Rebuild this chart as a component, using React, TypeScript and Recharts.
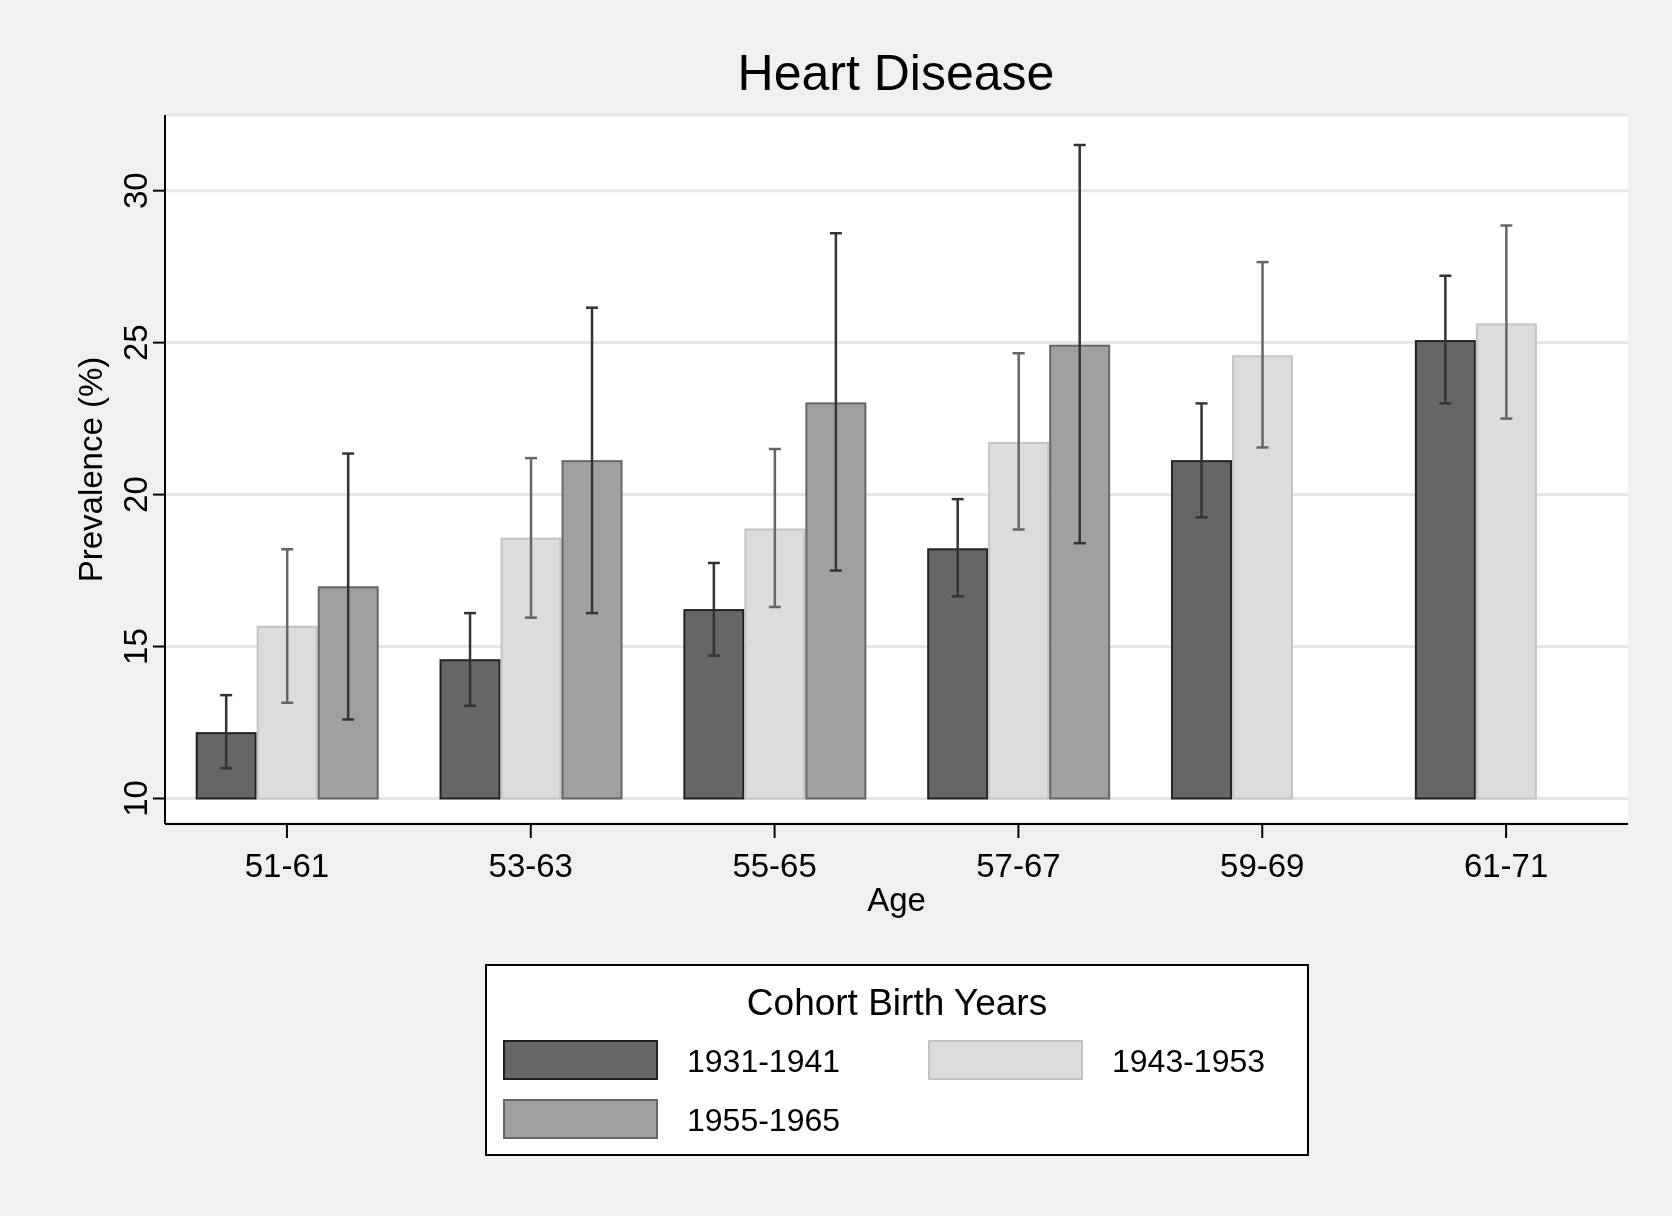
import React from 'react';
import { BarChart, Bar, XAxis, YAxis, CartesianGrid, Label } from 'recharts';

const ages = ['51-61', '53-63', '55-65', '57-67', '59-69', '61-71'];
const c1931 = [12.15, 14.55, 16.2, 18.2, 21.1, 25.05];
const c1931Lo = [11.0, 13.05, 14.7, 16.65, 19.25, 23.0];
const c1931Hi = [13.4, 16.1, 17.75, 19.85, 23.0, 27.2];
const c1943 = [15.65, 18.55, 18.85, 21.7, 24.55, 25.6];
const c1943Lo = [13.15, 15.95, 16.3, 18.85, 21.55, 22.5];
const c1943Hi = [18.2, 21.2, 21.5, 24.65, 27.65, 28.85];
const c1955 = [16.95, 21.1, 23.0, 24.9, null, null];
const c1955Lo = [12.6, 16.1, 17.5, 18.4, null, null];
const c1955Hi = [21.35, 26.15, 28.6, 31.5, null, null];

const Y_MIN = 9.16;
const BASE = 10;

const data = ages.map((a, i) => ({
  age: a,
  a: c1931[i], aLo: c1931Lo[i], aHi: c1931Hi[i],
  b: c1943[i], bLo: c1943Lo[i], bHi: c1943Hi[i],
  c: c1955[i], cLo: c1955Lo[i], cHi: c1955Hi[i],
}));

const makeShape = (key: string, fill: string, stroke: string, err: string) => (props: any) => {
  const { x, y, width, height, payload } = props;
  const v = payload[key];
  if (v == null || !height) return <g />;
  const ppu = height / (v - Y_MIN);
  const yBase = y + (v - BASE) * ppu;
  const yLo = y + (v - payload[key + 'Lo']) * ppu;
  const yHi = y + (v - payload[key + 'Hi']) * ppu;
  const cx = x + width / 2;
  return (
    <g>
      <rect x={x} y={y} width={width} height={yBase - y} fill={fill} stroke={stroke} strokeWidth={2} />
      <line x1={cx} x2={cx} y1={yLo} y2={yHi} stroke={err} strokeWidth={2.5} />
      <line x1={cx - 6} x2={cx + 6} y1={yLo} y2={yLo} stroke={err} strokeWidth={2.5} />
      <line x1={cx - 6} x2={cx + 6} y1={yHi} y2={yHi} stroke={err} strokeWidth={2.5} />
    </g>
  );
};

const YTick = (props: any) => {
  const { x, y, payload } = props;
  return (
    <text x={x - 4} y={y} transform={`rotate(-90 ${x - 4} ${y})`} textAnchor="middle" fontSize={33} fill="#000">
      {payload.value}
    </text>
  );
};

const swatch = (fill: string, stroke: string) => (
  <div style={{ width: 155, height: 40, background: fill, border: `2px solid ${stroke}`, boxSizing: 'border-box' }} />
);

export default function App() {
  const font = 'Liberation Sans, Arial, sans-serif';
  return (
    <div style={{ position: 'fixed', left: 0, top: 0, width: 1672, height: 1216, background: '#f0f0f0', fontFamily: font }}>
      <div style={{ position: 'absolute', left: 165, top: 115, width: 1463, height: 709, background: '#fff' }} />
      <div style={{ position: 'absolute', left: 0, width: 1792, top: 44, textAlign: 'center', fontSize: 50 }}>Heart Disease</div>
      <BarChart
        width={1672}
        height={1216}
        data={data}
        margin={{ top: 115, right: 44, left: 85, bottom: 297 }}
        barCategoryGap="13%"
        barGap={2}
        style={{ position: 'absolute', left: 0, top: 0, fontFamily: font }}
      >
        <CartesianGrid vertical={false} stroke="#e6e6e6" strokeWidth={3} />
        <XAxis
          dataKey="age"
          stroke="#000"
          strokeWidth={2}
          tickSize={14}
          height={95}
          tick={{ fontSize: 33, fill: '#000', dy: 14 }}
          tickLine={{ stroke: '#000', strokeWidth: 2 }}
        >
          <Label value="Age" position="insideBottom" offset={8} fontSize={33} fill="#000" />
        </XAxis>
        <YAxis
          domain={[Y_MIN, 32.49]}
          ticks={[10, 15, 20, 25, 30]}
          allowDataOverflow
          width={80}
          stroke="#000"
          strokeWidth={2}
          tickSize={12}
          tick={<YTick />}
        >
          <Label value="Prevalence (%)" angle={-90} position="insideLeft" dx={0} fontSize={33} fill="#000" style={{ textAnchor: 'middle' }} />
        </YAxis>
        <Bar dataKey="a" isAnimationActive={false} shape={makeShape('a', '#666666', '#222222', '#333333')} />
        <Bar dataKey="b" isAnimationActive={false} shape={makeShape('b', '#dcdcdc', '#c4c4c4', '#666666')} />
        <Bar dataKey="c" isAnimationActive={false} shape={makeShape('c', '#a0a0a0', '#666666', '#333333')} />
      </BarChart>
      <div style={{ position: 'absolute', left: 485, top: 964, width: 824, height: 192, background: '#fff', border: '2px solid #000', boxSizing: 'border-box' }}>
        <div style={{ position: 'absolute', top: 16, width: '100%', textAlign: 'center', fontSize: 37 }}>Cohort Birth Years</div>
        <div style={{ position: 'absolute', left: 16, top: 74 }}>{swatch('#666666', '#222222')}</div>
        <div style={{ position: 'absolute', left: 200, top: 77, fontSize: 32 }}>1931-1941</div>
        <div style={{ position: 'absolute', left: 441, top: 74 }}>{swatch('#dcdcdc', '#c4c4c4')}</div>
        <div style={{ position: 'absolute', left: 625, top: 77, fontSize: 32 }}>1943-1953</div>
        <div style={{ position: 'absolute', left: 16, top: 133 }}>{swatch('#a0a0a0', '#666666')}</div>
        <div style={{ position: 'absolute', left: 200, top: 136, fontSize: 32 }}>1955-1965</div>
      </div>
    </div>
  );
}
